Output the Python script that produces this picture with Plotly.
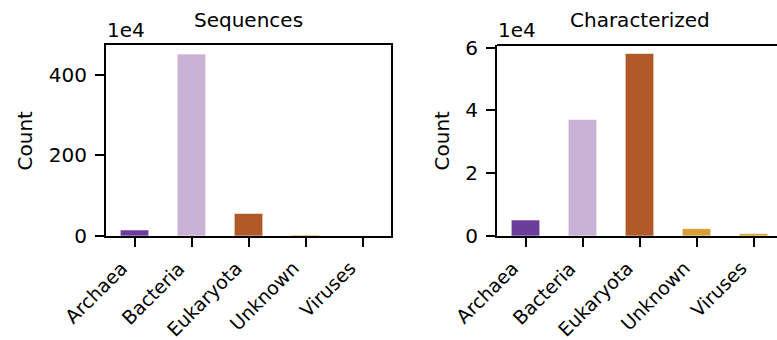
import plotly.graph_objects as go

categories = ["Archaea", "Bacteria", "Eukaryota", "Unknown", "Viruses"]
sequences = [150000, 4510000, 560000, 25000, 3000]
characterized = [5100, 37100, 58100, 2350, 760]
colors = ["#6a3d9a", "#cab2d6", "#b15928", "#d69e34", "#d6a035"]
seq_ticks = [0, 2000000, 4000000]
seq_ticktext = ["0", "200", "400"]
char_ticks = [0, 20000, 40000, 60000]
char_ticktext = ["0", "2", "4", "6"]

FONT = "DejaVu Sans"
FS = 20

fig = go.Figure()
fig.add_trace(go.Bar(x=categories, y=sequences, marker=dict(color=colors, line=dict(color="rgba(255,255,255,0.6)", width=1)),
                     width=0.5, xaxis="x", yaxis="y", showlegend=False))
fig.add_trace(go.Bar(x=categories, y=characterized, marker=dict(color=colors, line=dict(color="rgba(255,255,255,0.6)", width=1)),
                     width=0.5, xaxis="x2", yaxis="y2", showlegend=False))

W, H = 777, 340
ml, mr, mt, mb = 106, 0, 45, 104
pw = W - ml - mr
d1 = [0, (391 - ml) / pw]
d2 = [(497 - ml) / pw, 1.0]
# right panel is clipped at the figure edge: visible fraction of a 5.0-unit axis
r2_end = -0.5 + (W - 497) / 57.0

axis_common = dict(showline=True, linecolor="black", linewidth=2, ticks="outside", ticklen=9, tickwidth=2,
                   tickcolor="black", showgrid=False, zeroline=False, tickfont=dict(family=FONT, size=FS, color="black"))

fig.update_layout(
    width=W, height=H, margin=dict(l=ml, r=mr, t=mt, b=mb, autoexpand=False),
    paper_bgcolor="white", plot_bgcolor="white", bargap=0.5,
    font=dict(family=FONT, size=FS, color="black"),
    xaxis=dict(domain=d1, range=[-0.5, 4.5], anchor="y", mirror=True, showticklabels=False, **axis_common),
    yaxis=dict(domain=[0, 1], range=[0, 4735000], anchor="x", mirror=True, tickvals=seq_ticks,
               ticktext=seq_ticktext, ticklabelstandoff=4, **axis_common),
    xaxis2=dict(domain=d2, range=[-0.5, r2_end], anchor="y2", mirror=False, showticklabels=False, **axis_common),
    yaxis2=dict(domain=[0, 1], range=[0, 60800], anchor="x2", mirror=False, tickvals=char_ticks,
                ticktext=char_ticktext, ticklabelstandoff=4, **axis_common),
)

# top spine for the clipped right panel
fig.add_shape(type="line", xref="x2 domain", yref="y2 domain", x0=0, x1=1, y0=1, y1=1,
              line=dict(color="black", width=2))

ann = []
# titles
ann.append(dict(text="Sequences", xref="x", yref="paper", x=categories[2], y=1, yshift=25,
                xanchor="center", yanchor="middle", showarrow=False))
ann.append(dict(text="Characterized", xref="x2", yref="paper", x=categories[2], y=1, yshift=25,
                xanchor="center", yanchor="middle", showarrow=False))
# offset text
ann.append(dict(text="1e4", xref="x domain", yref="paper", x=0, y=1, xshift=-1, yshift=15,
                xanchor="left", yanchor="middle", showarrow=False))
ann.append(dict(text="1e4", xref="x2 domain", yref="paper", x=0, y=1, xshift=-1, yshift=15,
                xanchor="left", yanchor="middle", showarrow=False))
# y labels
ann.append(dict(text="Count", xref="x domain", yref="y domain", x=0, y=0.5, xshift=-82, textangle=-90,
                xanchor="center", yanchor="middle", showarrow=False))
ann.append(dict(text="Count", xref="x2 domain", yref="y2 domain", x=0, y=0.5, xshift=-56, textangle=-90,
                xanchor="center", yanchor="middle", showarrow=False))
# rotated category labels
for xr, yr in (("x", "y domain"), ("x2", "y2 domain")):
    for c in categories:
        ann.append(dict(text=c, xref=xr, yref=yr, x=c, y=0, xshift=0, yshift=-18, textangle=-45,
                        xanchor="right", yanchor="top", showarrow=False, font=dict(size=19)))
fig.update_layout(annotations=ann)

fig.write_html("out.html")
